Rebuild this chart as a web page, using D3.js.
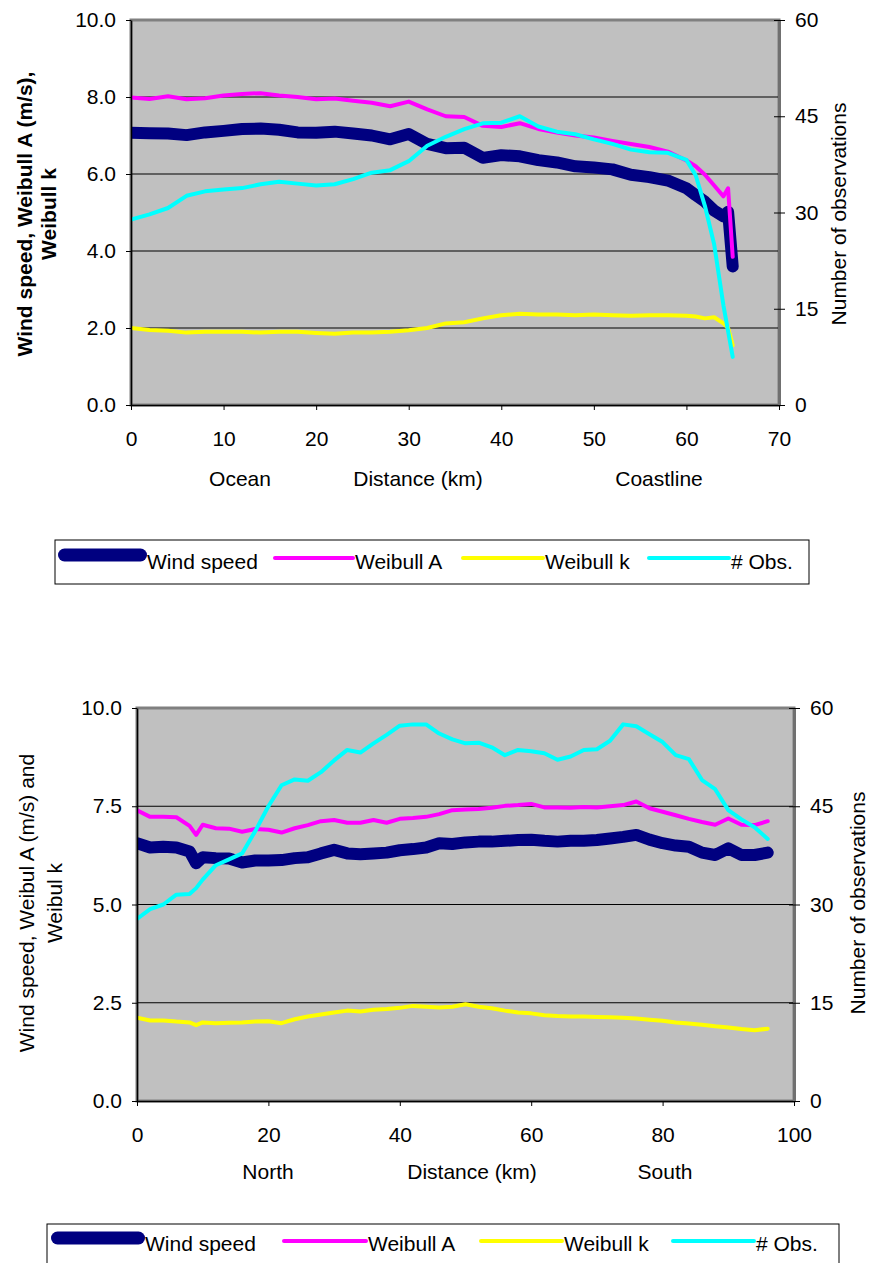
<!DOCTYPE html>
<html>
<head>
<meta charset="utf-8">
<script src="https://cdn.jsdelivr.net/npm/d3@7"></script>
<style>
body { margin: 0; background: #fff; }
text { font-family: "Liberation Sans", Arial, sans-serif; }
</style>
</head>
<body>
<div id="container"></div>
<script>
// ---- chart 1: ocean -> coastline
const topDistance = [0,2,4,6,8,10,12,14,16,18,20,22,24,26,28,30,32,34,36,38,40,42,44,46,48,50,52,54,56,58,60,61,62,63,64,64.5,65];
const topWindSpeed = [7.07,7.06,7.05,7.01,7.08,7.12,7.17,7.18,7.15,7.08,7.07,7.1,7.05,7.0,6.9,7.04,6.78,6.67,6.68,6.42,6.49,6.46,6.36,6.3,6.2,6.17,6.12,5.98,5.92,5.83,5.63,5.45,5.28,5.05,4.9,5.02,3.6];
const topWeibullA = [7.99,7.95,8.02,7.94,7.97,8.04,8.08,8.1,8.04,8.0,7.94,7.96,7.9,7.85,7.76,7.88,7.68,7.5,7.48,7.25,7.22,7.32,7.17,7.08,7.0,6.95,6.86,6.78,6.7,6.58,6.35,6.2,5.98,5.7,5.42,5.63,3.85];
const topWeibullK = [2.0,1.95,1.93,1.88,1.9,1.9,1.9,1.88,1.9,1.9,1.87,1.85,1.88,1.88,1.9,1.94,2.0,2.12,2.15,2.25,2.33,2.37,2.35,2.35,2.33,2.35,2.33,2.32,2.33,2.33,2.32,2.3,2.25,2.28,2.12,2.0,1.55];
const topObs = [28.9,29.7,30.7,32.6,33.3,33.6,33.8,34.4,34.8,34.5,34.2,34.4,35.2,36.2,36.6,38.0,40.4,41.8,43.0,43.9,44.0,45.0,43.4,42.6,42.2,41.4,40.7,39.8,39.4,39.3,38.2,35.8,31.0,25.0,15.5,11.5,7.5];
const topXTicks = [0,10,20,30,40,50,60,70];
const topYTicks = [0,2,4,6,8,10];
const topRegions = ["Ocean","Distance (km)","Coastline"];

// ---- chart 2: north -> south
const bottomDistance = [0,2,4,6,8,9,10,12,14,16,18,20,22,24,26,28,30,32,34,36,38,40,42,44,46,48,50,52,54,56,58,60,62,64,66,68,70,72,74,76,78,80,82,84,86,88,90,92,94,96];
const bottomWindSpeed = [6.56,6.45,6.47,6.45,6.35,6.05,6.2,6.18,6.17,6.07,6.12,6.12,6.13,6.18,6.2,6.3,6.39,6.3,6.28,6.3,6.32,6.38,6.41,6.45,6.56,6.54,6.58,6.6,6.6,6.62,6.64,6.65,6.62,6.6,6.62,6.62,6.64,6.68,6.72,6.77,6.65,6.56,6.5,6.47,6.32,6.26,6.43,6.26,6.26,6.32];
const bottomWeibullA = [7.4,7.23,7.23,7.22,7.0,6.77,7.03,6.94,6.93,6.85,6.92,6.9,6.83,6.94,7.02,7.12,7.15,7.08,7.08,7.15,7.08,7.18,7.2,7.23,7.3,7.4,7.42,7.43,7.46,7.51,7.53,7.56,7.47,7.47,7.46,7.48,7.47,7.5,7.53,7.62,7.45,7.36,7.27,7.18,7.1,7.03,7.19,7.03,7.02,7.12];
const bottomWeibullK = [2.12,2.05,2.05,2.02,2.0,1.93,2.0,1.98,1.99,2.0,2.02,2.03,1.98,2.08,2.15,2.2,2.25,2.3,2.28,2.32,2.34,2.37,2.42,2.4,2.38,2.4,2.46,2.4,2.36,2.3,2.25,2.23,2.18,2.16,2.15,2.15,2.14,2.13,2.12,2.1,2.07,2.04,2.0,1.97,1.94,1.9,1.87,1.83,1.8,1.84];
const bottomObs = [27.8,29.3,30.0,31.5,31.6,32.5,33.8,36.0,36.9,37.8,41.2,45.0,48.2,49.1,48.9,50.2,52.0,53.6,53.2,54.6,55.9,57.3,57.5,57.5,56.1,55.2,54.6,54.7,54.0,52.8,53.6,53.4,53.1,52.1,52.6,53.6,53.7,55.0,57.5,57.2,56.0,54.8,52.8,52.2,49.0,47.6,44.4,43.0,41.8,40.0];
const bottomXTicks = [0,20,40,60,80,100];
const bottomYTicks = [0,2.5,5,7.5,10];
const bottomRegions = ["North","Distance (km)","South"];

const obsTicks = [0,15,30,45,60];
const seriesNames = ["Wind speed","Weibull A","Weibull k","# Obs."];
const seriesColors = ["#000080","#ff00ff","#ffff00","#00ffff"];

const w = 869;
const h = 1263;
const fontSize = 21;

let svg = d3.select("#container")
    .append("svg")
    .attr("width",w)
    .attr("height",h);

function drawChart(cfg){
    const g = svg.append("g");

    const xScale = d3.scaleLinear()
          .domain(cfg.xDomain)
          .range([cfg.left, cfg.right]);
    const yScale = d3.scaleLinear()
          .domain([0,10])
          .range([cfg.bottom, cfg.top]);
    const obsScale = d3.scaleLinear()
          .domain([0,60])
          .range([cfg.bottom, cfg.top]);

    // plot area
    g.append("rect")
        .attr("x",cfg.left)
        .attr("y",cfg.top)
        .attr("width",cfg.right - cfg.left)
        .attr("height",cfg.bottom - cfg.top)
        .attr("fill","#c0c0c0")
        .attr("stroke","#808080")
        .attr("stroke-width",3);

    g.selectAll("line.grid")
        .data(cfg.yTicks.filter((t) => t > 0 && t < 10))
        .enter()
        .append("line")
        .attr("class","grid")
        .attr("x1",cfg.left)
        .attr("x2",cfg.right)
        .attr("y1",(d) => yScale(d))
        .attr("y2",(d) => yScale(d))
        .attr("stroke","#000")
        .attr("stroke-width",1);

    const clipId = "clip" + cfg.id;
    g.append("clipPath")
        .attr("id",clipId)
        .append("rect")
        .attr("x",cfg.left)
        .attr("y",cfg.top)
        .attr("width",cfg.right - cfg.left)
        .attr("height",cfg.bottom - cfg.top);

    const series = [
        {values: cfg.wind, scale: yScale, width: 12},
        {values: cfg.weibullA, scale: yScale, width: 4},
        {values: cfg.weibullK, scale: yScale, width: 4},
        {values: cfg.obs, scale: obsScale, width: 4}
    ];

    series.forEach((s,i) => {
        const line = d3.line()
              .x((d,j) => xScale(cfg.distance[j]))
              .y((d) => s.scale(d));
        g.append("path")
            .datum(s.values)
            .attr("clip-path","url(#" + clipId + ")")
            .attr("d",line)
            .attr("fill","none")
            .attr("stroke",seriesColors[i])
            .attr("stroke-width",s.width)
            .attr("stroke-linejoin","round")
            .attr("stroke-linecap","round");
    });

    // axes
    const yAxis = d3.axisLeft(yScale)
          .tickValues(cfg.yTicks)
          .tickFormat(d3.format(".1f"))
          .tickSize(5)
          .tickSizeOuter(0)
          .tickPadding(10);
    const xAxis = d3.axisBottom(xScale)
          .tickValues(cfg.xTicks)
          .tickFormat(d3.format("d"))
          .tickSize(5)
          .tickSizeOuter(0)
          .tickPadding(21);
    const obsAxis = d3.axisRight(obsScale)
          .tickValues(obsTicks)
          .tickFormat(d3.format("d"))
          .tickSize(6)
          .tickSizeOuter(0)
          .tickPadding(10);

    const gx = g.append("g")
        .attr("transform","translate(0," + cfg.bottom + ")")
        .call(xAxis);
    const gy = g.append("g")
        .attr("transform","translate(" + cfg.left + ",0)")
        .call(yAxis);
    const gr = g.append("g")
        .attr("transform","translate(" + cfg.right + ",0)")
        .call(obsAxis);
    gr.selectAll(".tick line").attr("x1",-5);
    gr.select(".domain").attr("stroke","#707070").attr("stroke-width",3);

    [gx,gy,gr].forEach((a) => {
        a.attr("font-size",fontSize)
            .attr("font-family","'Liberation Sans', Arial, sans-serif");
        a.selectAll("text").attr("fill","#000");
    });
    gx.select(".domain").attr("stroke-width",1.5);
    gy.select(".domain").attr("stroke-width",1.5);

    // axis titles
    cfg.leftTitle.forEach((t,i) => {
        g.append("text")
            .text(t)
            .attr("font-size",fontSize)
            .attr("font-weight",cfg.boldTitle ? "bold" : "normal")
            .attr("text-anchor","middle")
            .attr("dominant-baseline","central")
            .attr("transform","translate(" + cfg.leftTitleX[i] + "," + cfg.titleY + ") rotate(-90)");
    });
    g.append("text")
        .text("Number of observations")
        .attr("font-size",fontSize)
        .attr("text-anchor","middle")
        .attr("dominant-baseline","central")
        .attr("transform","translate(" + cfg.rightTitleX + "," + cfg.titleY + ") rotate(-90)");

    cfg.regions.forEach((r,i) => {
        g.append("text")
            .text(r)
            .attr("font-size",fontSize)
            .attr("text-anchor","middle")
            .attr("x",cfg.regionX[i])
            .attr("y",cfg.regionY);
    });

    // legend
    const lg = cfg.legend;
    g.append("rect")
        .attr("x",lg.x)
        .attr("y",lg.y)
        .attr("width",lg.w)
        .attr("height",lg.h)
        .attr("fill","#fff")
        .attr("stroke","#000")
        .attr("stroke-width",1);
    seriesNames.forEach((name,i) => {
        const thick = i == 0 ? 13 : 4;
        g.append("line")
            .attr("x1",lg.items[i][0] + thick / 2)
            .attr("x2",lg.items[i][1] - thick / 2)
            .attr("y1",i == 0 ? lg.lineY - 3 : lg.lineY)
            .attr("y2",i == 0 ? lg.lineY - 3 : lg.lineY)
            .attr("stroke",seriesColors[i])
            .attr("stroke-width",thick)
            .attr("stroke-linecap","round");
        g.append("text")
            .text(name)
            .attr("font-size",fontSize)
            .attr("x",lg.items[i][1])
            .attr("y",lg.textY);
    });
}

drawChart({
    id: 1,
    left: 131, right: 779, top: 20, bottom: 405,
    xDomain: [0,70],
    xTicks: topXTicks, yTicks: topYTicks,
    distance: topDistance,
    wind: topWindSpeed, weibullA: topWeibullA, weibullK: topWeibullK, obs: topObs,
    leftTitle: ["Wind speed, Weibull A (m/s),","Weibull k"],
    leftTitleX: [24,48], boldTitle: true,
    rightTitleX: 838, titleY: 214,
    regions: topRegions, regionX: [240,418,659], regionY: 486,
    legend: {x: 55, y: 540, w: 754, h: 44, lineY: 558, textY: 569,
             items: [[58,147],[273,355],[461,545],[647,731]]}
});

drawChart({
    id: 2,
    left: 137, right: 794, top: 708, bottom: 1101,
    xDomain: [0,100],
    xTicks: bottomXTicks, yTicks: bottomYTicks,
    distance: bottomDistance,
    wind: bottomWindSpeed, weibullA: bottomWeibullA, weibullK: bottomWeibullK, obs: bottomObs,
    leftTitle: ["Wind speed, Weibul A (m/s) and","Weibul k"],
    leftTitleX: [26,54], boldTitle: false,
    rightTitleX: 857, titleY: 903,
    regions: bottomRegions, regionX: [268,472,665], regionY: 1179,
    legend: {x: 47, y: 1224, w: 792, h: 44, lineY: 1241, textY: 1251,
             items: [[51,145],[282,368],[479,564],[671,756]]}
});
</script>
</body>
</html>
